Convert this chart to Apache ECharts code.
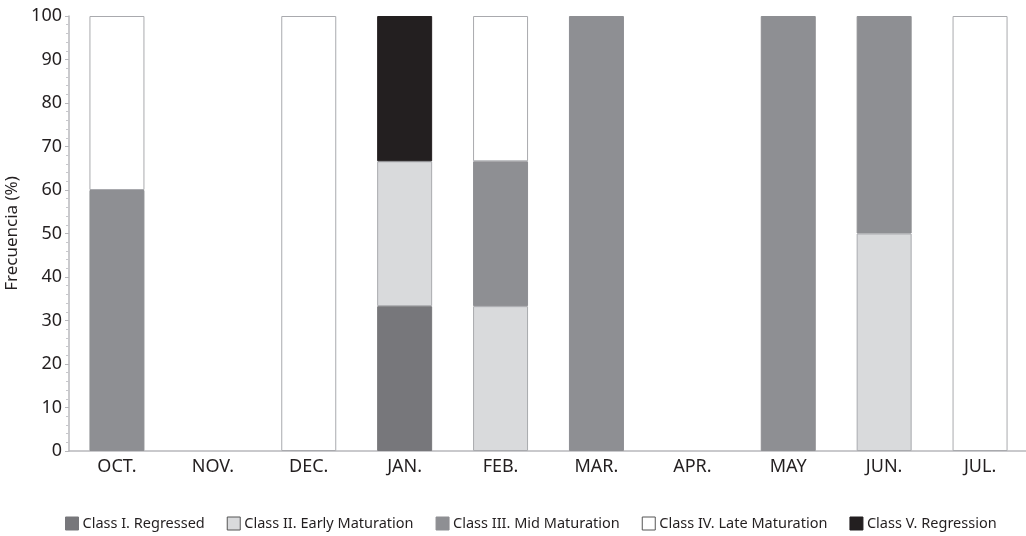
<!DOCTYPE html>
<html><head><meta charset="utf-8">
<script src="https://cdn.jsdelivr.net/npm/echarts@6/dist/echarts.min.js"></script>
<style>html,body{margin:0;padding:0;background:#fff}#c{width:1026px;height:536px}</style>
</head><body><div id="c"></div>
<script>
var months = ['OCT.','NOV.','DEC.','JAN.','FEB.','MAR.','APR.','MAY','JUN.','JUL.'];
var classI   = [null, null, null, 33.3, null, null, null, null, null, null];
var classII  = [null, null, null, 33.3, 33.3, null, null, null, 50, null];
var classIII = [60, null, null, null, 33.3, 100, null, 100, 50, null];
var classIV  = [40, null, 100, null, 33.4, null, null, null, null, 100];
var classV   = [null, null, null, 33.4, null, null, null, null, null, null];
var names = ['Class I. Regressed','Class II. Early Maturation','Class III. Mid Maturation','Class IV. Late Maturation','Class V. Regression'];
var colors = ['#77777b','#d9dadc','#8e8f93','#ffffff','#231f20'];
var borders = ['#77777b','#a9aaae','#8e8f93','#a9aaae','#231f20'];
var datas = [classI, classII, classIII, classIV, classV];
var font = 'Noto Sans';
var chart = echarts.init(document.getElementById('c'));
chart.setOption({
  animation:false,
  textStyle:{fontFamily:font},
  grid:{left:69, right:-2, top:16, bottom:85, outerBoundsMode:'none', containLabel:false},
  legend:{
    bottom:0, left:60, width:1000, itemWidth:13, itemHeight:13, itemGap:22,
    textStyle:{fontFamily:font, fontSize:14.5, color:'#231f20', padding:[0,0,0,-1]},
    data: names.map(function(n,i){return {name:n, icon:'rect', itemStyle:{color:colors[i], borderColor:i==3||i==1?'#555':colors[i], borderWidth:1}};})
  },
  xAxis:{type:'category', data:months,
    axisLine:{lineStyle:{color:'#b8b8bc', width:1.5}},
    axisTick:{show:false},
    axisLabel:{fontSize:18, color:'#231f20', margin:7}
  },
  yAxis:{type:'value', min:0, max:100, interval:10,
    name:'Frecuencia (%)', nameLocation:'middle', nameGap:38, nameRotate:90,
    nameTextStyle:{fontSize:17, color:'#231f20'},
    axisLine:{show:true, lineStyle:{color:'#b8b8bc', width:1.5}},
    axisTick:{show:true, length:4, lineStyle:{color:'#b8b8bc'}},
    minorTick:{show:true, splitNumber:5, length:3, lineStyle:{color:'#c8c8cc'}},
    splitLine:{show:false},
    axisLabel:{fontSize:18, color:'#231f20', margin:7}
  },
  series: datas.map(function(d,i){return {
    name:names[i], type:'bar', stack:'s', data:d, barWidth:55,
    itemStyle:{color:colors[i], borderColor:borders[i], borderWidth:1}
  };})
});
</script></body></html>
